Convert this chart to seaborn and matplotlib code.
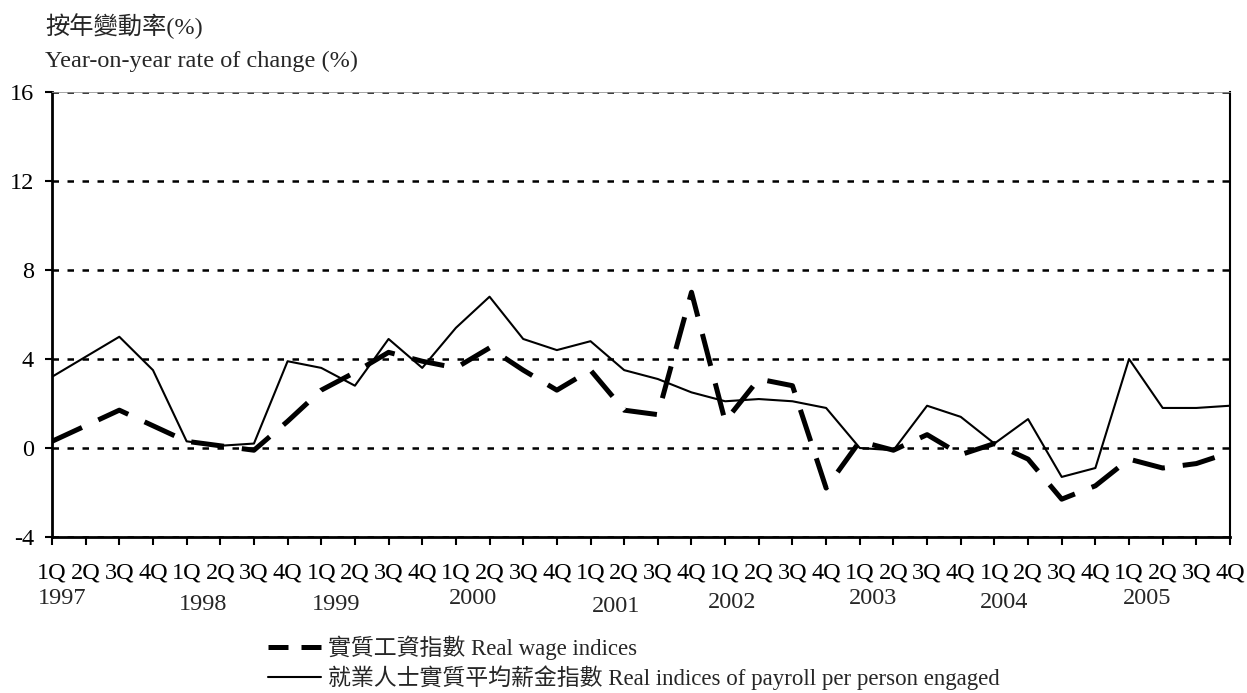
import matplotlib
matplotlib.use("Agg")
import matplotlib.pyplot as plt
from matplotlib.lines import Line2D
import pandas as pd
import seaborn as sns

# quarters 1997 Q1 .. 2005 Q4
quarters = ["1Q", "2Q", "3Q", "4Q"] * 9
years = ["1997", "1998", "1999", "2000", "2001", "2002", "2003", "2004", "2005"]
# year labels sit a bit irregularly under the quarter row (x in quarter index, drop in px)
year_pos = [0.3, 4.5, 8.45, 12.5, 16.75, 20.2, 24.4, 28.3, 32.55]
year_drop = [61, 67, 67, 61, 69, 66, 61, 66, 61]

real_wage = [0.3, 1.0, 1.7, 1.0, 0.3, 0.1, -0.1, 1.2, 2.6, 3.4, 4.3, 3.9,
             3.6, 4.5, 3.5, 2.6, 3.5, 1.7, 1.5, 7.0, 1.2, 3.1, 2.8, -1.8,
             0.3, -0.1, 0.6, -0.3, 0.2, -0.5, -2.3, -1.7, -0.5, -0.9, -0.7, -0.2]
payroll = [3.2, 4.1, 5.0, 3.5, 0.3, 0.1, 0.2, 3.9, 3.6, 2.8, 4.9, 3.6,
           5.4, 6.8, 4.9, 4.4, 4.8, 3.5, 3.1, 2.5, 2.1, 2.2, 2.1, 1.8,
           0.0, -0.1, 1.9, 1.4, 0.2, 1.3, -1.3, -0.9, 4.0, 1.8, 1.8, 1.9]

label_wage = "實質工資指數 Real wage indices"
label_payroll = "就業人士實質平均薪金指數 Real indices of payroll per person engaged"

sns.set_style("ticks")
plt.rcParams["font.family"] = ["Liberation Serif", "Noto Sans CJK TC"]
plt.rcParams["font.size"] = 17.5

df = pd.DataFrame({"t": range(len(quarters)), "real_wage": real_wage, "payroll": payroll})

W, H = 1247, 693
fig = plt.figure(figsize=(W / 100, H / 100), dpi=100)
ax = fig.add_axes([52 / W, 1 - 537 / H, (1230 - 52) / W, (537 - 92) / H])

sns.lineplot(data=df, x="t", y="payroll", ax=ax, color="black", lw=1.5)
sns.lineplot(data=df, x="t", y="real_wage", ax=ax, color="black", lw=3.6,
             linestyle=(0, (6.6, 3.6)))

ax.set_xlim(0, 35)
ax.set_ylim(-4, 16)
ax.set_xlabel("")
ax.set_ylabel("")
ax.set_yticks([-4, 0, 4, 8, 12, 16])
ax.set_yticklabels(["-4", "0", "4", "8", "12", "16"])
ax.set_xticks(range(len(quarters)))
ax.set_xticklabels(quarters)

ax.set_axisbelow(True)
ax.grid(axis="y", color="black", linestyle=(0, (2.6, 3.4)), linewidth=1.8)
ax.grid(axis="x", visible=False)

ax.tick_params(axis="x", direction="out", length=6, width=1.5, pad=12, colors="black")
ax.tick_params(axis="y", direction="out", length=5, width=1.5, pad=8, colors="black")

ax.spines["left"].set_linewidth(2.0)
ax.spines["bottom"].set_linewidth(2.0)
ax.spines["right"].set_visible(True)
ax.spines["right"].set_linewidth(1.5)
ax.spines["top"].set_visible(True)
ax.spines["top"].set_color("#999999")
ax.spines["top"].set_linewidth(0.6)
for s in ax.spines.values():
    if s is not ax.spines["top"]:
        s.set_color("black")

# year row under the quarter labels
ax_h = (537 - 92)
for yr, xp, dy in zip(years, year_pos, year_drop):
    ax.text(xp, -dy / ax_h, yr, transform=ax.get_xaxis_transform(),
            ha="center", va="center")

fig.text(45 / W, 1 - 26 / H, "按年變動率(%)", va="center")
fig.text(45 / W, 1 - 61 / H, "Year-on-year rate of change (%)", va="center")

handles = [
    Line2D([], [], color="black", lw=3.6, linestyle=(0, (4.0, 2.6))),
    Line2D([], [], color="black", lw=1.5),
]
fig.legend(handles, [label_wage, label_payroll], loc="upper left",
           bbox_to_anchor=(257 / W, 1 - 624 / H), frameon=False, borderpad=0,
           handlelength=2.3, handletextpad=0.3, labelspacing=0.22, fontsize=16.5)

fig.savefig("out.png", dpi=100)
